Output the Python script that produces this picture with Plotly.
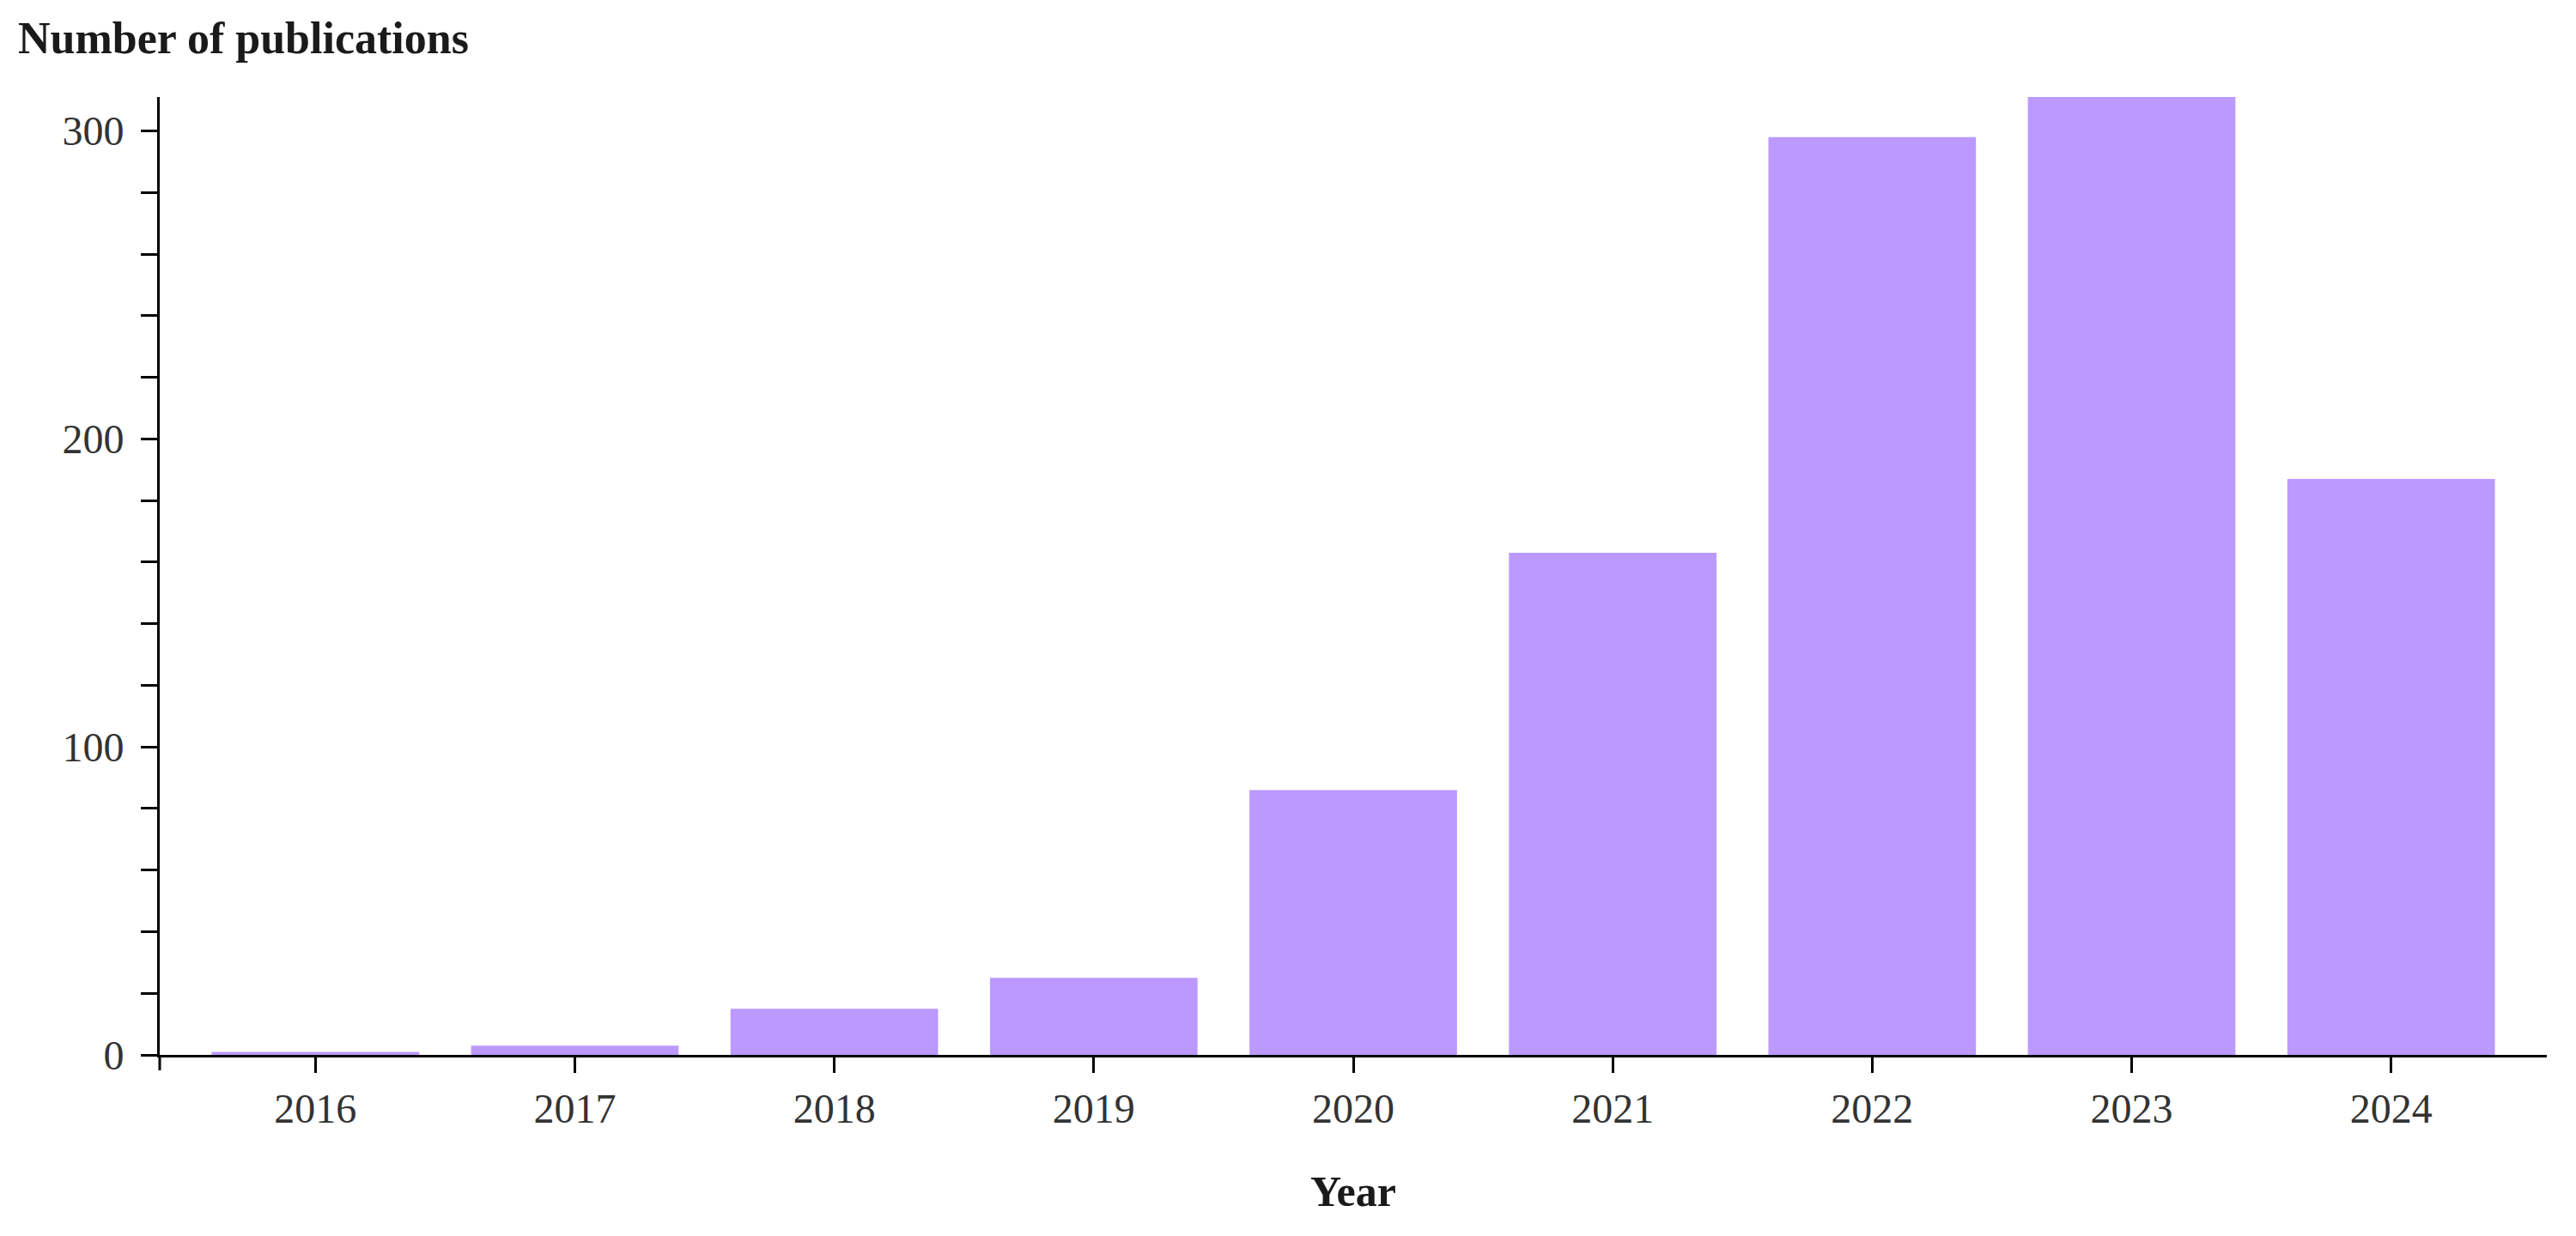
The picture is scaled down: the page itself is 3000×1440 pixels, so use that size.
import plotly.graph_objects as go

years = ["2016", "2017", "2018", "2019", "2020", "2021", "2022", "2023", "2024"]
publications = [1, 3, 15, 25, 86, 163, 298, 311, 187]
y_tick_vals = [0, 100, 200, 300]
y_tick_text = ["0", "100", "200", "300"]

W, H = 3000, 1440
OFF = 8  # default body margin of the page
L, R, T, B = 186 - OFF, 34 + OFF, 113 - OFF, 211 + OFF
plot_w = W - L - R
plot_h = H - T - B

FONT = "Liberation Serif"
bar_color = "#bb99ff"

fig = go.Figure(
    go.Bar(
        x=years,
        y=publications,
        marker=dict(color=bar_color, line=dict(width=0)),
        width=0.8,
    )
)

fig.update_layout(
    width=W,
    height=H,
    margin=dict(l=L, r=R, t=T, b=B, pad=0),
    paper_bgcolor="white",
    plot_bgcolor="white",
    showlegend=False,
    font=dict(family=FONT, size=48, color="#333333"),
)

fig.update_xaxes(
    type="category",
    range=[-0.6, 8.6],
    showline=True,
    linecolor="black",
    linewidth=3,
    ticks="outside",
    ticklen=18,
    tickwidth=3,
    tickcolor="black",
    showgrid=False,
    zeroline=False,
    automargin=False,
    tickfont=dict(family=FONT, size=48, color="#333333"),
    ticklabelstandoff=0,
)

fig.update_yaxes(
    range=[0, 311],
    showline=True,
    linecolor="black",
    linewidth=3,
    ticks="outside",
    ticklen=19,
    tickwidth=3,
    tickcolor="black",
    tickvals=y_tick_vals,
    ticktext=y_tick_text,
    minor=dict(dtick=20, ticks="outside", ticklen=19, tickwidth=3, tickcolor="black", showgrid=False),
    showgrid=False,
    zeroline=False,
    automargin=False,
    tickfont=dict(family=FONT, size=48, color="#333333"),
    ticklabelstandoff=10,
)

# extend y-axis line below the baseline (like the reference)
fig.add_shape(
    type="line", xref="paper", yref="paper",
    x0=0, x1=0, y0=0, y1=-18 / plot_h,
    line=dict(color="black", width=3),
)

fig.add_annotation(
    text="<b>Number of publications</b>",
    xref="paper", yref="paper",
    x=(19 - OFF - L) / plot_w, y=(H - B - (45 - OFF)) / plot_h,
    xanchor="left", yanchor="middle",
    showarrow=False,
    font=dict(family=FONT, size=52, color="#1a1a1a"),
)

fig.add_annotation(
    text="<b>Year</b>",
    xref="paper", yref="paper",
    x=0.5, y=-((1388 - OFF) - (H - B)) / plot_h,
    xanchor="center", yanchor="middle",
    showarrow=False,
    font=dict(family=FONT, size=50, color="#1a1a1a"),
)

fig.write_html("out.html")
